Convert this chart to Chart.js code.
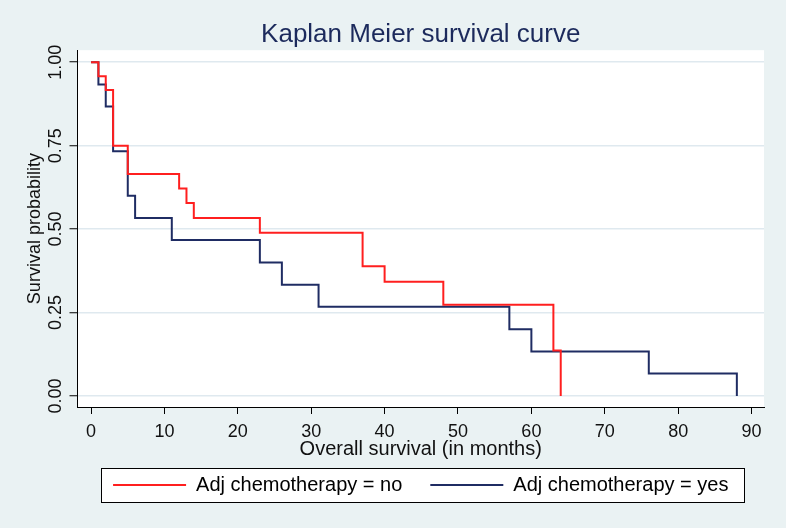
<!DOCTYPE html>
<html>
<head>
<meta charset="utf-8">
<script src="https://cdn.jsdelivr.net/npm/chart.js@4/dist/chart.umd.min.js"></script>
<style>
  html, body { margin: 0; padding: 0; background: #eaf2f3; }
  #wrap { width: 786px; height: 528px; }
</style>
</head>
<body>
<div id="wrap"><canvas id="km"></canvas></div>
<script>
// survival estimates (time in months, step value after the event)
const noTimes = [0, 1, 2, 3, 5, 12, 13, 14, 23, 37, 40, 48, 63, 64];
const noSurv = [1, 0.958, 0.917, 0.75, 0.665, 0.622, 0.578, 0.533, 0.489, 0.389, 0.342, 0.273, 0.136, 0];
const yesTimes = [0, 1, 2, 3, 5, 6, 11, 23, 26, 31, 57, 60, 76, 88];
const yesSurv = [1, 0.933, 0.867, 0.733, 0.6, 0.533, 0.467, 0.4, 0.333, 0.267, 0.2, 0.133, 0.067, 0];

const xTicks = [0, 10, 20, 30, 40, 50, 60, 70, 80, 90];
const yTicks = [0, 0.25, 0.5, 0.75, 1];

const FONT = "'Liberation Sans', Arial, sans-serif";
const RED = '#ff1f1f';
const NAVY = '#1f2c63';

function toPoints(times, surv) {
  return times.map((t, i) => ({ x: t, y: surv[i] }));
}

// white plot region + boxed legend like the stata graph
const stataLook = {
  id: 'stataLook',
  beforeDraw(chart) {
    const { ctx, chartArea } = chart;
    ctx.save();
    ctx.fillStyle = '#eaf2f3';
    ctx.fillRect(0, 0, chart.width, chart.height);
    ctx.fillStyle = '#ffffff';
    ctx.fillRect(chartArea.left, chartArea.top, chartArea.right - chartArea.left, chartArea.bottom - chartArea.top);

    const boxes = chart.legend && chart.legend.legendHitBoxes;
    if (boxes && boxes.length) {
      const first = boxes[0], last = boxes[boxes.length - 1];
      const left = Math.round(first.left - 12);
      const right = Math.round(last.left + last.width + 16);
      const mid = Math.round(first.top + first.height / 2);
      ctx.fillStyle = '#ffffff';
      ctx.fillRect(left, mid - 17, right - left, 34);
      ctx.strokeStyle = '#000000';
      ctx.lineWidth = 1;
      ctx.strokeRect(left + 0.5, mid - 17 + 0.5, right - left, 34);
    }
    ctx.restore();
  }
};

new Chart(document.getElementById('km'), {
  type: 'line',
  data: {
    datasets: [
      {
        label: 'Adj chemotherapy = no',
        data: toPoints(noTimes, noSurv),
        borderColor: RED,
        backgroundColor: RED,
        borderWidth: 2,
        stepped: 'before',
        pointRadius: 0,
        fill: false
      },
      {
        label: 'Adj chemotherapy = yes',
        data: toPoints(yesTimes, yesSurv),
        borderColor: NAVY,
        backgroundColor: NAVY,
        borderWidth: 2,
        stepped: 'before',
        pointRadius: 0,
        fill: false
      }
    ]
  },
  options: {
    responsive: true,
    maintainAspectRatio: false,
    animation: false,
    events: [],
    layout: { padding: { top: 0, left: 0, right: 22, bottom: 23 } },
    plugins: {
      title: {
        display: true,
        fullSize: false,
        text: 'Kaplan Meier survival curve',
        color: '#1c2a5c',
        font: { family: FONT, size: 26, weight: 'normal' },
        padding: { top: 19, bottom: 0 }
      },
      legend: {
        position: 'bottom',
        fullSize: false,
        labels: {
          color: '#111',
          font: { family: FONT, size: 20 },
          boxWidth: 73,
          boxHeight: 2,
          padding: 28,
          generateLabels(chart) {
            return chart.data.datasets.map((ds, i) => ({
              text: ds.label,
              fillStyle: ds.borderColor,
              strokeStyle: ds.borderColor,
              lineWidth: 0,
              datasetIndex: i
            }));
          }
        }
      },
      tooltip: { enabled: false }
    },
    scales: {
      x: {
        type: 'linear',
        min: -1.85,
        max: 91.7,
        afterBuildTicks(scale) { scale.ticks = xTicks.map(v => ({ value: v })); },
        afterFit(scale) { scale.height = 40; },
        grid: { drawOnChartArea: false, tickColor: '#000', tickLength: 7, tickWidth: 1 },
        border: { color: '#000', width: 1 },
        ticks: {
          color: '#111',
          font: { family: FONT, size: 18 },
          padding: 7,
          maxRotation: 0
        },
        title: {
          display: true,
          text: 'Overall survival (in months)',
          color: '#111',
          font: { family: FONT, size: 20 },
          padding: { top: 0, bottom: -14 }
        }
      },
      y: {
        min: -0.033,
        max: 1.036,
        afterBuildTicks(scale) { scale.ticks = yTicks.map(v => ({ value: v })); },
        afterFit(scale) { scale.width = 77.5; },
        grid: { color: '#dfe9ef', tickColor: '#000', tickLength: 8, lineWidth: 1.5, tickWidth: 1 },
        border: { color: '#000', width: 1 },
        ticks: {
          color: '#111',
          font: { family: FONT, size: 18 },
          minRotation: 90,
          maxRotation: 90,
          crossAlign: 'center',
          padding: -4,
          callback: v => Number(v).toFixed(2)
        },
        title: {
          display: true,
          text: 'Survival probability',
          color: '#111',
          font: { family: FONT, size: 18 },
          padding: { top: 24, bottom: 0 }
        }
      }
    }
  },
  plugins: [stataLook]
});
</script>
</body>
</html>
